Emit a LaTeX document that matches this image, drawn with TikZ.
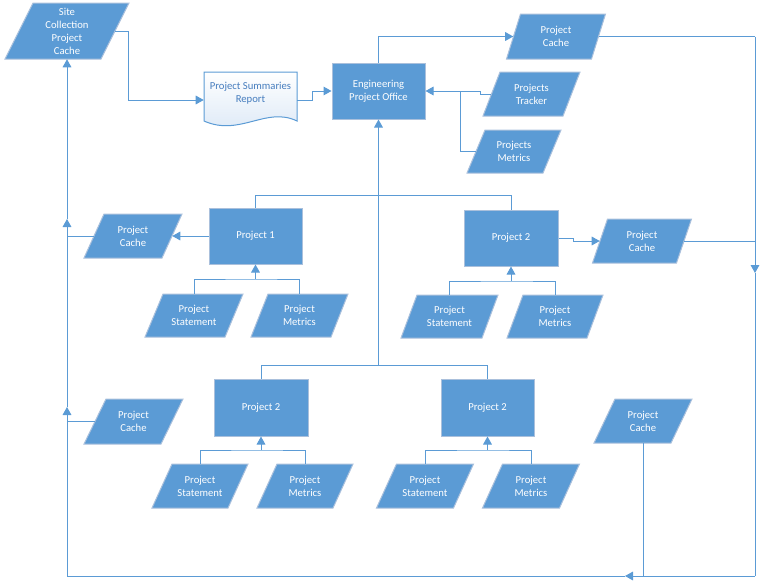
\documentclass[tikz,border=0pt]{standalone}
\usepackage{fontspec}
\setmainfont{Carlito}
\usetikzlibrary{arrows.meta,calc}
\definecolor{fillblue}{RGB}{91,155,213}
\definecolor{edgeblue}{RGB}{170,192,220}
\definecolor{lineblue}{RGB}{91,155,213}
\definecolor{doctext}{RGB}{70,125,190}
\definecolor{docbot}{RGB}{218,231,246}
\tikzset{
  ln/.style={draw=lineblue, line width=0.75pt},
  arr/.style={-{Triangle[length=6pt,width=6.5pt]}},
  txt/.style={text=white, font=\fontsize{8}{9.75}\selectfont, align=center, inner sep=0pt},
  box/.style={txt, rectangle, fill=fillblue, draw=edgeblue, line width=0.75pt,
     minimum width=93*0.75pt, minimum height=56*0.75pt},
  pgshape/.style={fill=fillblue, draw=edgeblue, line width=0.75pt}
}
% name, cx, cy, w, h, slant, text
\newcommand\mypgram[7]{%
  \path[pgshape] ({#2-#4/2+#6/2},{#3-#5/2}) -- ({#2+#4/2+#6/2},{#3-#5/2})
     -- ({#2+#4/2-#6/2},{#3+#5/2}) -- ({#2-#4/2-#6/2},{#3+#5/2}) -- cycle;
  \node[txt, minimum width=#4*0.75pt, minimum height=#5*0.75pt] (#1) at (#2,#3) {#7};
}
\begin{document}
\begin{tikzpicture}[x=0.75pt,y=-0.75pt]
\useasboundingbox (0,0) rectangle (761,582);

% parallelograms
\mypgram{site}{67}{31}{96}{56}{28}{Site\\Collection\\Project\\Cache}
\mypgram{ct}{556}{36.5}{85}{45}{14}{Project\\Cache}
\mypgram{trk}{531.5}{94}{80}{44}{17}{Projects\\Tracker}
\mypgram{pmet}{514}{151.5}{76}{43}{18}{Projects\\Metrics}
\mypgram{c2l}{133}{236}{78}{44}{20}{Project\\Cache}
\mypgram{s1}{194}{315.5}{80}{43}{18}{Project\\Statement}
\mypgram{m1}{299.5}{315.5}{80}{43}{17}{Project\\Metrics}
\mypgram{c2r}{642}{241}{84}{44}{15}{Project\\Cache}
\mypgram{s2}{449.5}{316.5}{81}{43}{16}{Project\\Statement}
\mypgram{m2}{555}{316.5}{80}{43}{16}{Project\\Metrics}
\mypgram{c3l}{133.5}{421.5}{77}{45}{22}{Project\\Cache}
\mypgram{s3}{200}{486}{76}{44}{20}{Project\\Statement}
\mypgram{m3}{305}{486}{76}{44}{20}{Project\\Metrics}
\mypgram{s4}{425}{486}{77}{44}{20}{Project\\Statement}
\mypgram{m4}{531}{486}{77}{44}{20}{Project\\Metrics}
\mypgram{c3r}{643}{421}{77}{44}{21}{Project\\Cache}

% document shape
\shadedraw[top color=white, bottom color=docbot, draw=lineblue, line width=0.75pt]
  (204,72) -- (297,72) -- (297,121) .. controls (266,106) and (240,137) .. (204,121) -- cycle;
\node[txt, text=doctext, minimum width=93*0.75pt] (doc) at (250.5,93) {Project Summaries\\Report};

% rectangles
\node[box] (epo) at (378.5,91) {Engineering\\Project Office};
\node[box] (p1) at (255.5,236) {Project 1};
\node[box, minimum width=94*0.75pt] (p2r) at (511,238) {Project 2};
\node[box, minimum width=94*0.75pt, minimum height=57*0.75pt] (p3) at (261,407.5) {Project 2};
\node[box, minimum height=57*0.75pt] (p4) at (487.5,407.5) {Project 2};

% helper coordinates
\coordinate (bl) at (67,576);
\coordinate (br) at (755,576);
\coordinate (tr) at (755,36.5);
\coordinate (bus1) at (378.5,195);
\coordinate (bus2) at (378.5,365);
\coordinate (tj) at (480,91);
\coordinate (mj) at (460,91);
\coordinate (dw) at ($(doc.west)+(0,7)$);
\coordinate (de) at ($(doc.east)+(0,7)$);
\coordinate (f1) at (255.5,279);
\coordinate (f2) at (511,281);
\coordinate (f3) at (261,450);
\coordinate (f4) at (487.5,450);

% top connectors
\draw[ln,arr] (site.east) -- (128,31) |- (dw);
\draw[ln,arr] (de) -- (312,100) -- (312,91) -- (epo.west);
\draw[ln,arr] (epo.north) |- (ct.west);
\draw[ln,arr] (trk.west) -| (tj) -- (epo.east);
\draw[ln] (pmet.west) -| (mj);

% outer loop
\draw[ln] (ct.east) -- (tr);
\draw[ln,arr] (tr) -- (755,273);
\draw[ln] (755,273) -- (br);
\draw[ln,arr] (br) -- (625,576);
\draw[ln] (625,576) -- (bl);
\draw[ln,arr] (bl) -- (67,407);
\draw[ln,arr] (67,407) -- (67,219);
\draw[ln,arr] (67,219) -- (site.south);

% caches to loop
\draw[ln,arr] (p1.west) -- (c2l.east);
\draw[ln] (c2l.west) -- (c2l.west -| bl);
\draw[ln,arr] (p2r.east) -- (573,238) -- (573,241) -- (c2r.west);
\draw[ln] (c2r.east) -- (c2r.east -| br);
\draw[ln] (c3l.west) -- (c3l.west -| bl);
\draw[ln] (c3r.south) -- (c3r.south |- bl);

% project buses
\draw[ln,arr] (bus2) -- (epo.south);
\draw[ln] (p1.north) -- (p1.north |- bus1) -| (p2r.north);
\draw[ln] (p3.north) -- (p3.north |- bus2) -| (p4.north);

% feeders
\draw[ln] (s1.north) |- (f1) -| (m1.north);
\draw[ln,arr] (f1) -- (p1.south);
\draw[ln] (s2.north) |- (f2) -| (m2.north);
\draw[ln,arr] (f2) -- (p2r.south);
\draw[ln] (s3.north) |- (f3) -| (m3.north);
\draw[ln,arr] (f3) -- (p3.south);
\draw[ln] (s4.north) |- (f4) -| (m4.north);
\draw[ln,arr] (f4) -- (p4.south);
\end{tikzpicture}
\end{document}
